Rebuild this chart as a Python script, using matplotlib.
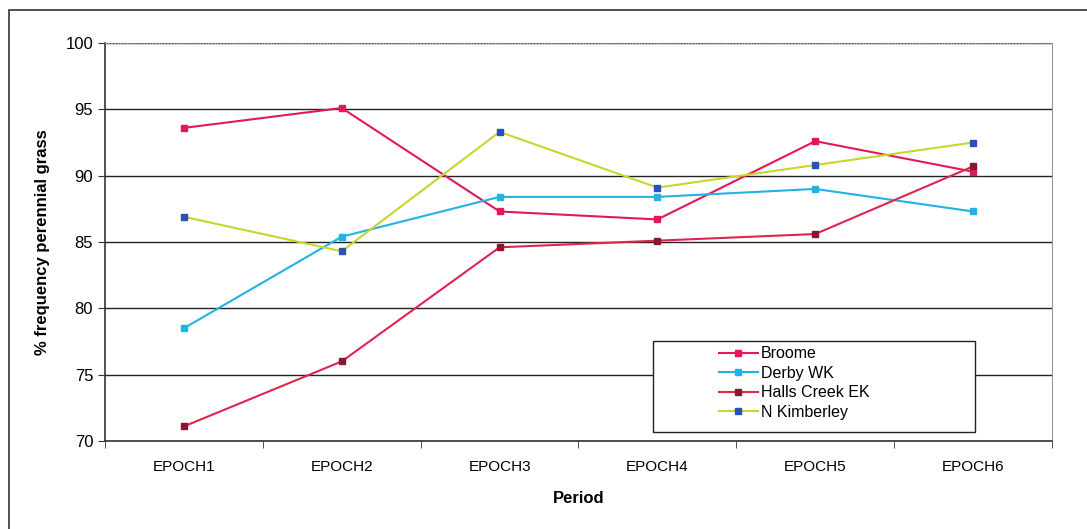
import matplotlib.pyplot as plt
from matplotlib.patches import Rectangle

plt.rcParams['font.family'] = ['Liberation Sans', 'DejaVu Sans']

periods = ['EPOCH1', 'EPOCH2', 'EPOCH3', 'EPOCH4', 'EPOCH5', 'EPOCH6']
broome = [93.6, 95.1, 87.3, 86.7, 92.6, 90.3]
derby_wk = [78.5, 85.4, 88.4, 88.4, 89.0, 87.3]
halls_creek_ek = [71.1, 76.0, 84.6, 85.1, 85.6, 90.7]
n_kimberley = [86.9, 84.3, 93.3, 89.1, 90.8, 92.5]

W, H = 1087, 529
L, R, T, B = 105, 1052, 43, 441
fig = plt.figure(figsize=(W / 100, H / 100), dpi=100)
ax = fig.add_axes([L / W, 1 - B / H, (R - L) / W, (B - T) / H])


def ax_frac(px, py):
    # pixel position -> axes fraction
    return (px - L) / (R - L), (B - py) / (B - T)


# outer chart frame
fig.patches.append(Rectangle((9 / W, -0.05), 1.2, 1 - 10 / H + 0.05,
                             transform=fig.transFigure, fill=False,
                             edgecolor='#333333', lw=1.2))

x = list(range(len(periods)))
series = [
    ('Broome', broome, '#e3175c', '#e3175c'),
    ('Derby WK', derby_wk, '#22b2e4', '#22b2e4'),
    ('Halls Creek EK', halls_creek_ek, '#e2234f', '#8c1630'),
    ('N Kimberley', n_kimberley, '#c9d52e', '#2852b5'),
]
for name, vals, lc, mc in series:
    ax.plot(x, vals, color=lc, lw=1.5, marker='s', ms=5,
            markerfacecolor=mc, markeredgecolor=mc, label=name)

ax.set_xlim(-0.5, 5.5)
ax.set_ylim(70, 100)
ax.set_yticks([70, 75, 80, 85, 90, 95, 100])
ax.set_xticks(x)
ax.set_xticklabels(periods)
ax.set_xticks([i - 0.5 for i in range(7)], minor=True)
ax.tick_params(axis='x', which='major', length=0, pad=14, labelsize=11)
ax.tick_params(axis='x', which='minor', length=5, direction='out', color='#333333')
ax.tick_params(axis='y', length=5, direction='out', labelsize=12, color='#333333')

ax.yaxis.grid(True, color='#222222', lw=1.0)
ax.set_axisbelow(True)
for s in ['left', 'bottom']:
    ax.spines[s].set_color('#333333')
    ax.spines[s].set_linewidth(1.2)
ax.spines['top'].set_color('#999999')
ax.spines['top'].set_linestyle(':')
ax.spines['right'].set_color('#999999')

ax.set_xlabel('Period', fontsize=12, fontweight='bold', labelpad=12)
ax.set_ylabel('% frequency perennial grass', fontsize=12, fontweight='bold', labelpad=11)

# legend box, drawn wider than its entries
x0, y0 = ax_frac(653, 432)
x1, y1 = ax_frac(975, 341)
ax.add_patch(Rectangle((x0, y0), x1 - x0, y1 - y0, transform=ax.transAxes,
                       facecolor='white', edgecolor='#222222', lw=1.0, zorder=5))
lx, ly = ax_frac(716, 343)
leg = ax.legend(loc='upper left', bbox_to_anchor=(lx, ly), frameon=False,
                fontsize=11.5, handlelength=2.4, handletextpad=0.2,
                labelspacing=0.28, borderpad=0.2, borderaxespad=0)
leg.set_zorder(6)

fig.savefig('out.png', dpi=100, facecolor='white')
